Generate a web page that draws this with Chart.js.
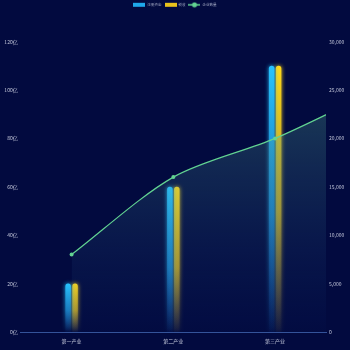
<!DOCTYPE html>
<html>
<head>
<meta charset="utf-8">
<script src="https://cdn.jsdelivr.net/npm/chart.js@4"></script>
<style>
  html, body { margin: 0; padding: 0; background: #020a3f; }
</style>
</head>
<body>
<canvas id="industryChart" width="350" height="350"></canvas>
<script>
// categories and series
const industries = ["第一产业", "第二产业", "第三产业"];
const capital = [20, 60, 110];          // 注册资金 (亿)
const tax = [20, 60, 110];              // 税收 (亿)
const companyCount = [8000, 16000, 20000, 25000]; // 企业数量, last point runs past the edge
const legendNames = ["注册资金", "税收", "企业数量"];

// one extra slot so the line can continue past the last category
const axisLabels = [...industries, ""];

const textColor = "#c3c7da";
const fontFamily = "'Noto Sans CJK SC', 'Noto Sans', sans-serif";
const barColors = ["#22b8f5", "#f5d01c"];

// small legend icons
function makeIcon(kind, color) {
  const c = document.createElement("canvas");
  c.width = 12;
  c.height = 6;
  const g = c.getContext("2d");
  if (kind === "line") {
    g.strokeStyle = color;
    g.lineWidth = 1.5;
    g.beginPath();
    g.moveTo(0, 3);
    g.lineTo(12, 3);
    g.stroke();
    g.fillStyle = color;
    g.beginPath();
    g.arc(6, 3, 2.5, 0, Math.PI * 2);
    g.fill();
  } else {
    g.fillStyle = color;
    g.fillRect(0, 1, 12, 4);
  }
  return c;
}

// gradient running from the top of each bar down to the axis
function barFade(c, top, mid, end, fallback) {
  const chart = c.chart;
  const a = chart.chartArea;
  const ys = chart.scales.y;
  if (!a || !ys || c.raw == null) return fallback;
  const yTop = ys.getPixelForValue(c.raw);
  const grad = chart.ctx.createLinearGradient(0, yTop, 0, a.bottom);
  grad.addColorStop(0, top);
  grad.addColorStop(0.55, mid);
  grad.addColorStop(1, end);
  return grad;
}

// push the plot down below the legend
const legendGap = {
  id: "legendGap",
  beforeInit(chart) {
    const fit = chart.legend.fit;
    chart.legend.fit = function () {
      fit.bind(chart.legend)();
      this.height += 25;
    };
  },
};

// soft glow around the bars
const barGlow = {
  id: "barGlow",
  beforeDatasetDraw(chart, args) {
    const ds = chart.data.datasets[args.index];
    if (ds.type !== "bar") return;
    const ctx = chart.ctx;
    ctx.save();
    ctx.shadowColor = barColors[args.index];
    ctx.shadowBlur = 4;
  },
  afterDatasetDraw(chart, args) {
    const ds = chart.data.datasets[args.index];
    if (ds.type !== "bar") return;
    chart.ctx.restore();
  },
};

const ctx = document.getElementById("industryChart").getContext("2d");
new Chart(ctx, {
  data: {
    labels: axisLabels,
    datasets: [
      {
        type: "bar",
        label: legendNames[0],
        data: capital,
        yAxisID: "y",
        order: 1,
        backgroundColor: (c) =>
          barFade(c, "#27c3ff", "rgba(28,130,200,0.75)", "rgba(20,60,150,0.05)", barColors[0]),
        borderRadius: { topLeft: 3, topRight: 3 },
        borderSkipped: "bottom",
        categoryPercentage: 0.1356,
        barPercentage: 0.8,
      },
      {
        type: "bar",
        label: legendNames[1],
        data: tax,
        yAxisID: "y",
        order: 1,
        backgroundColor: (c) =>
          barFade(c, "#ffd91a", "rgba(190,165,40,0.75)", "rgba(90,90,90,0.05)", barColors[1]),
        borderRadius: { topLeft: 3, topRight: 3 },
        borderSkipped: "bottom",
        categoryPercentage: 0.1356,
        barPercentage: 0.8,
      },
      {
        type: "line",
        label: legendNames[2],
        data: companyCount,
        yAxisID: "y1",
        order: 0,
        clip: 0,
        borderColor: "#62d392",
        borderWidth: 1.2,
        tension: 0.3,
        pointRadius: 2,
        pointBackgroundColor: "#62d392",
        pointBorderWidth: 0,
        fill: "origin",
        backgroundColor: (c) => {
          const a = c.chart.chartArea;
          if (!a) return "rgba(100,200,140,0.2)";
          const grad = c.chart.ctx.createLinearGradient(0, a.top, 0, a.bottom);
          grad.addColorStop(0, "rgba(100,200,140,0.36)");
          grad.addColorStop(1, "rgba(40,80,160,0.03)");
          return grad;
        },
      },
    ],
  },
  options: {
    indexAxis: "x",
    responsive: false,
    animation: false,
    layout: { padding: 0 },
    plugins: {
      tooltip: { enabled: false },
      legend: {
        position: "top",
        labels: {
          color: "#9aa0bc",
          font: { size: 3.6, family: fontFamily },
          usePointStyle: true,
          pointStyleWidth: 12,
          boxHeight: 5,
          padding: 3,
          sort: (a, b) => a.datasetIndex - b.datasetIndex,
          generateLabels: (chart) =>
            chart.data.datasets.map((ds, i) => ({
              text: ds.label,
              datasetIndex: i,
              fontColor: "#9aa0bc",
              hidden: false,
              lineWidth: 0,
              pointStyle: makeIcon(
                ds.type === "line" ? "line" : "rect",
                ["#1ea8ea", "#e8c21c", "#62d392"][i]
              ),
            })),
        },
      },
    },
    scales: {
      x: {
        type: "category",
        offset: true,
        grid: { display: false, drawTicks: false },
        border: { display: true, color: "#34539a", width: 1 },
        ticks: { color: textColor, font: { size: 5, family: fontFamily }, padding: 6 },
        // stop the axis at the last named category without trimming the line
        afterDataLimits: (s) => { s.max = industries.length - 1; },
        afterFit: (s) => { s.height = 18; },
      },
      y: {
        position: "left",
        min: 0,
        max: 120,
        grid: { display: false, drawTicks: false },
        border: { display: false },
        ticks: {
          stepSize: 20,
          color: textColor,
          font: { size: 5, family: fontFamily },
          padding: 3,
          callback: (v) => v + "亿",
        },
        afterFit: (s) => { s.width = 20.7; },
      },
      y1: {
        position: "right",
        min: 0,
        max: 30000,
        grid: { display: false, drawTicks: false },
        border: { display: false },
        ticks: {
          stepSize: 5000,
          color: textColor,
          font: { size: 5, family: fontFamily },
          padding: 3,
          callback: (v) => v.toLocaleString("en-US"),
        },
        afterFit: (s) => { s.width = 24; },
      },
    },
  },
  plugins: [legendGap, barGlow],
});
</script>
</body>
</html>
